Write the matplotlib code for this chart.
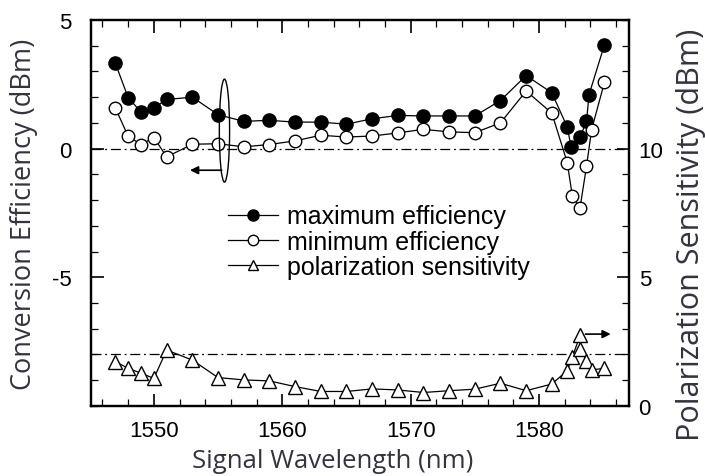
import matplotlib.pyplot as plt
from matplotlib.patches import Ellipse
from matplotlib.ticker import MultipleLocator, FixedLocator

plt.rcParams['axes.unicode_minus'] = False

# wavelengths (nm)
wl_max = [1547, 1548, 1549, 1550, 1551, 1553, 1555, 1557, 1559, 1561, 1563, 1565,
          1567, 1569, 1571, 1573, 1575, 1577, 1579, 1581, 1582.2, 1582.5, 1583.2,
          1583.7, 1583.9, 1585.1]
max_eff = [3.32, 1.98, 1.42, 1.58, 1.91, 2.0, 1.32, 1.06, 1.10, 1.03, 1.03, 0.95,
           1.16, 1.29, 1.27, 1.27, 1.27, 1.87, 2.84, 2.17, 0.84, 0.07, 0.45,
           1.06, 2.10, 4.04]

wl_min = [1547, 1548, 1549, 1550, 1551, 1553, 1555, 1557, 1559, 1561, 1563, 1565,
          1567, 1569, 1571, 1573, 1575, 1577, 1579, 1581, 1582.2, 1582.6, 1583.2,
          1583.7, 1584.1, 1585.1]
min_eff = [1.58, 0.48, 0.16, 0.43, -0.32, 0.17, 0.19, 0.07, 0.16, 0.30, 0.52, 0.45,
           0.49, 0.61, 0.75, 0.65, 0.62, 1.0, 2.24, 1.38, -0.54, -1.85, -2.29,
           -0.69, 0.74, 2.58]

wl_pol = [1547, 1548, 1549, 1550, 1551, 1553, 1555, 1557, 1559, 1561, 1563, 1565,
          1567, 1569, 1571, 1573, 1575, 1577, 1579, 1581, 1582.2, 1582.6, 1583.2,
          1583.2, 1583.7, 1584.1, 1585.1]
pol_sens = [1.72, 1.46, 1.27, 1.07, 2.17, 1.78, 1.10, 1.01, 0.97, 0.75, 0.56, 0.56,
            0.66, 0.62, 0.52, 0.59, 0.65, 0.88, 0.59, 0.85, 1.37, 1.89, 2.75,
            2.20, 1.76, 1.40, 1.46]

tick_font = 'Liberation Sans'
label_font = 'Open Sans'
label_color = '#333340'

fig = plt.figure(figsize=(7.05, 4.77), dpi=100)
ax = fig.add_axes([0.129, 0.147, 0.763, 0.809])
ax2 = ax.twinx()

ax.plot(wl_max, max_eff, color='k', lw=0.9, marker='o', ms=9.5, mfc='k', mec='k', zorder=3)
ax.plot(wl_min, min_eff, color='k', lw=0.9, marker='o', ms=9, mfc='white', mec='k',
        mew=1.0, zorder=3)
ax2.plot(wl_pol, pol_sens, color='k', lw=0.9, marker='^', ms=9.5, mfc='white', mec='k',
         mew=1.0, zorder=3)

# legend proxies (smaller markers, as in the original key)
ax.plot([], [], color='k', lw=0.9, marker='o', ms=8, mfc='k', mec='k',
        label='maximum efficiency')
ax.plot([], [], color='k', lw=0.9, marker='o', ms=7.5, mfc='white', mec='k',
        label='minimum efficiency')
ax.plot([], [], color='k', lw=0.9, marker='^', ms=7.5, mfc='white', mec='k',
        label='polarization sensitivity')

ax.axhline(0, color='k', lw=0.9, ls=(0, (8, 3, 1.5, 3)), zorder=1)
ax2.axhline(2, color='k', lw=0.9, ls=(0, (8, 3, 1.5, 3)), zorder=1)

ax.set_xlim(1545.1, 1587.0)
ax.set_ylim(-10, 5)
ax2.set_ylim(0, 15)

ax.xaxis.set_major_locator(FixedLocator([1550, 1560, 1570, 1580]))
ax.xaxis.set_minor_locator(MultipleLocator(2))
ax.yaxis.set_major_locator(FixedLocator([-5, 0, 5]))
ax.yaxis.set_minor_locator(MultipleLocator(1))
ax2.yaxis.set_major_locator(FixedLocator([0, 5, 10]))
ax2.yaxis.set_minor_locator(MultipleLocator(1))

ax.tick_params(axis='both', which='both', direction='in', top=True, right=False)
ax.tick_params(axis='both', which='major', length=9, width=1.2)
ax.tick_params(axis='both', which='minor', length=5, width=0.9)
ax.tick_params(axis='y', which='major', pad=14, labelsize=16)
ax.tick_params(axis='x', which='major', pad=10, labelsize=16)
ax2.tick_params(axis='y', which='both', direction='in')
ax2.tick_params(axis='y', which='major', length=9, width=1.2, pad=7, labelsize=16)
ax2.tick_params(axis='y', which='minor', length=5, width=0.9)

for lab in ax.get_xticklabels() + ax.get_yticklabels() + ax2.get_yticklabels():
    lab.set_family(tick_font)

for a in (ax, ax2):
    for s in a.spines.values():
        s.set_linewidth(1.6)

ax.set_xlabel('Signal Wavelength (nm)', fontsize=18.5, family=label_font,
              color=label_color)
ax.set_ylabel('Conversion Efficiency (dBm)', fontsize=19.5, family=label_font,
              color=label_color)
ax2.set_ylabel('Polarization Sensitivity (dBm)', fontsize=22, family=label_font,
               color=label_color)
ax.xaxis.set_label_coords(0.45, -0.108)
ax.yaxis.set_label_coords(-0.098, 0.5)
ax2.yaxis.set_label_coords(1.087, 0.445)

# ellipse and arrows
ax.add_patch(Ellipse((1555.5, 0.7), 0.8, 4.0, fill=False, ec='k', lw=1.0, zorder=4))
ax.annotate('', xy=(1552.6, -0.84), xytext=(1555.5, -0.84),
            arrowprops=dict(arrowstyle='-|>', color='k', lw=1.2, mutation_scale=12))
ax2.annotate('', xy=(1585.8, 2.79), xytext=(1583.4, 2.79),
             arrowprops=dict(arrowstyle='-|>', color='k', lw=1.2, mutation_scale=12))

leg = ax.legend(loc='upper left', bbox_to_anchor=(0.255, 0.522), frameon=False,
                prop={'family': tick_font, 'size': 18}, handlelength=2.0,
                handletextpad=0.36, labelspacing=0.05, borderaxespad=0,
                borderpad=0)

fig.savefig('out.png', dpi=100)
